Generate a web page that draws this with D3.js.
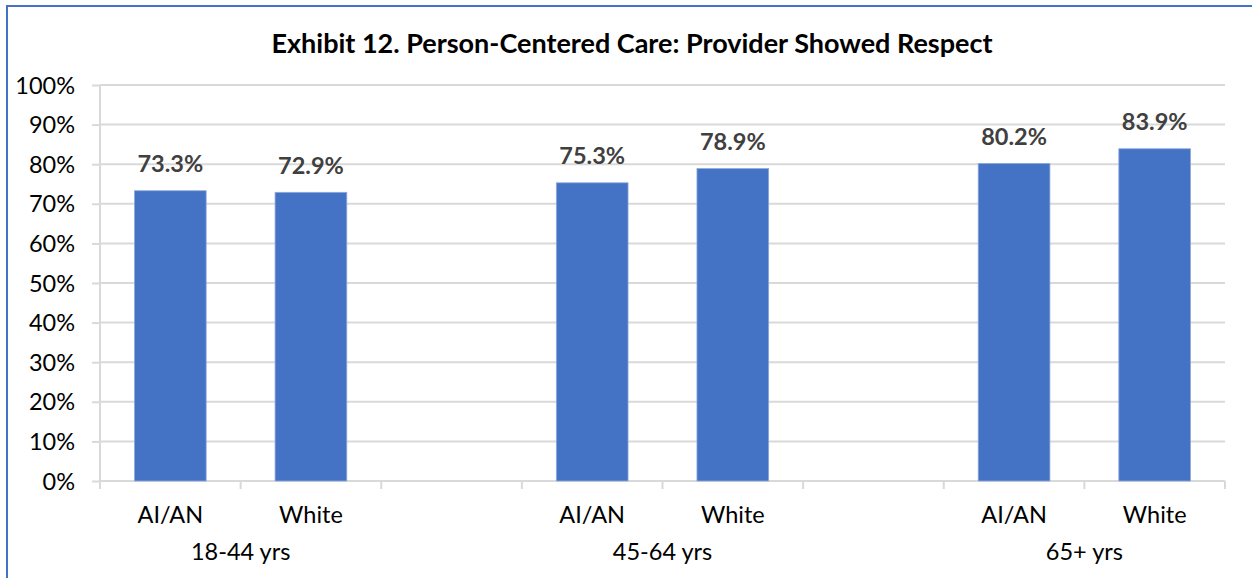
<!DOCTYPE html>
<html>
<head>
<meta charset="utf-8">
<script src="https://cdn.jsdelivr.net/npm/d3@7"></script>
<style>
  html, body { margin: 0; padding: 0; background: #fff; }
  svg { display: block; }
  text { font-family: Lato, "Open Sans", sans-serif; }
</style>
</head>
<body>
<svg id="chart" width="1252" height="578"></svg>
<script>
// Age groups and races shown within each group
const groups = ["18-44 yrs", "45-64 yrs", "65+ yrs"];
const races = ["AI/AN", "White"];
// Percent reporting the provider showed respect
const aianValues = [73.3, 75.3, 80.2];
const whiteValues = [72.9, 78.9, 83.9];
const yTicks = [0, 10, 20, 30, 40, 50, 60, 70, 80, 90, 100];
const title = "Exhibit 12. Person-Centered Care: Provider Showed Respect";

// Category slots: each group gets two bars, followed by an empty spacer slot
const slots = [];
groups.forEach((g, gi) => {
  slots.push({ key: g + "|" + races[0], group: g, race: races[0], value: aianValues[gi] });
  slots.push({ key: g + "|" + races[1], group: g, race: races[1], value: whiteValues[gi] });
  if (gi < groups.length - 1) slots.push({ key: g + "|gap", group: null, race: "", value: null });
});

const svg = d3.select("#chart");
const W = 1252, H = 578;
const plot = { left: 100, right: 1225, top: 85, bottom: 481 };
const FONT = "Lato, 'Open Sans', sans-serif";

// Outer frame
svg.append("rect").attr("x", 7).attr("y", 6).attr("width", W + 10).attr("height", H + 10)
  .attr("fill", "#fff").attr("stroke", "#4472C4").attr("stroke-width", 2);

const x = d3.scaleBand().domain(slots.map(d => d.key)).range([plot.left, plot.right]).padding(0);
const y = d3.scaleLinear().domain([0, 100]).range([plot.bottom, plot.top]);

// Title
svg.append("text").attr("x", 632).attr("y", 53).attr("text-anchor", "middle")
  .attr("font-size", 27).attr("font-weight", "bold").attr("fill", "#000").text(title);

// Horizontal gridlines
svg.append("g").selectAll("line").data(yTicks.filter(t => t > 0)).join("line")
  .attr("x1", plot.left).attr("x2", plot.right)
  .attr("y1", d => y(d)).attr("y2", d => y(d))
  .attr("stroke", "#d9d9d9").attr("stroke-width", 2);

// Y axis
const yAxis = svg.append("g").attr("transform", `translate(${plot.left},0)`)
  .call(d3.axisLeft(y).tickValues(yTicks).tickFormat(d => d + "%").tickSize(8).tickPadding(17));
yAxis.select(".domain").attr("stroke", "#d9d9d9").attr("stroke-width", 2).attr("d", `M0,${plot.top}V${plot.bottom}`);
yAxis.selectAll(".tick line").attr("stroke", "#d9d9d9").attr("stroke-width", 2);
yAxis.selectAll(".tick text").attr("font-size", 23.5).attr("fill", "#000")
  .attr("font-family", FONT).attr("dy", "0.34em");

// X axis: ticks at each slot boundary
const boundaries = slots.map(d => x(d.key)).concat([plot.right]);
const xg = svg.append("g");
xg.append("line").attr("x1", plot.left).attr("x2", plot.right)
  .attr("y1", plot.bottom).attr("y2", plot.bottom).attr("stroke", "#d9d9d9").attr("stroke-width", 2);
xg.selectAll("line.tick").data(boundaries).join("line").attr("class", "tick")
  .attr("x1", d => d).attr("x2", d => d)
  .attr("y1", plot.bottom).attr("y2", plot.bottom + 8)
  .attr("stroke", "#d9d9d9").attr("stroke-width", 2);

// Bars
const barW = x.bandwidth() * 0.51;
const data = slots.filter(d => d.value != null);
svg.append("g").selectAll("rect").data(data).join("rect")
  .attr("x", d => x(d.key) + (x.bandwidth() - barW) / 2)
  .attr("y", d => y(d.value))
  .attr("width", barW)
  .attr("height", d => y(0) - y(d.value))
  .attr("fill", "#4472C4").attr("stroke", "#8FAADC").attr("stroke-width", 0.8);

// Value labels
svg.append("g").selectAll("text").data(data).join("text")
  .attr("x", d => x(d.key) + x.bandwidth() / 2)
  .attr("y", d => y(d.value) - 18.5)
  .attr("text-anchor", "middle").attr("font-size", 23.5).attr("font-weight", "bold")
  .attr("fill", "#404040").text(d => d.value.toFixed(1) + "%");

// Race labels
svg.append("g").selectAll("text").data(data).join("text")
  .attr("x", d => x(d.key) + x.bandwidth() / 2)
  .attr("y", 523).attr("text-anchor", "middle").attr("font-size", 23.5).attr("fill", "#000")
  .text(d => d.race);

// Group labels centred under each pair of bars
svg.append("g").selectAll("text").data(groups).join("text")
  .attr("x", g => x(g + "|" + races[1]))
  .attr("y", 560).attr("text-anchor", "middle").attr("font-size", 23.5).attr("fill", "#000")
  .text(g => g);
</script>
</body>
</html>
